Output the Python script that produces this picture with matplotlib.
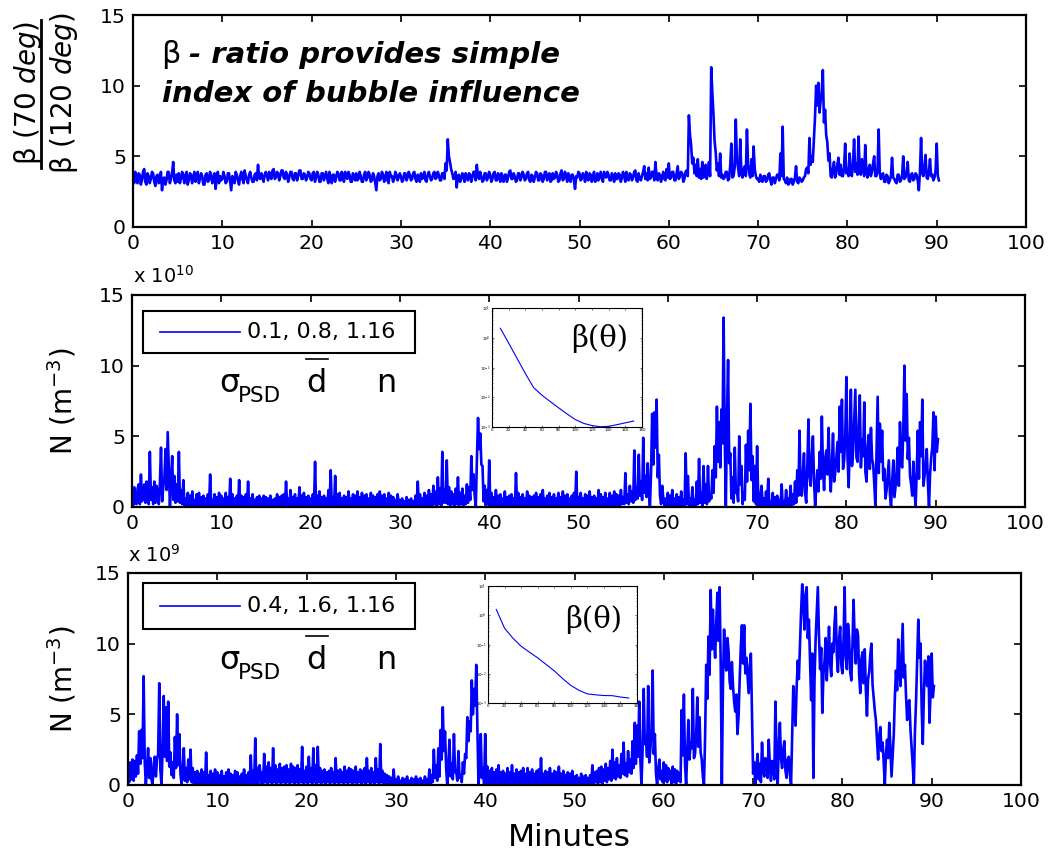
import numpy as np
import matplotlib
matplotlib.use("Agg")
import matplotlib.pyplot as plt
from matplotlib.lines import Line2D
from matplotlib.patches import Rectangle
from matplotlib.ticker import LogLocator, NullFormatter

plt.rcParams['font.family'] = ['DejaVu Sans']
plt.rcParams['mathtext.fontset'] = 'dejavusans'

# ---------------------------------------------------------------- data
sample_step = 0.125  # minutes between samples

beta_ratio = [
    3.5, 3.1, 3.9, 3.3, 3.1, 3.8, 3.7, 3.0, 3.3, 3.9, 4.1, 3.2, 3.0, 3.8, 3.6, 3.1, 3.4, 3.9, 3.8, 3.2,
    2.9, 3.6, 3.7, 3.1, 3.2, 3.9, 2.6, 3.4, 3.5, 3.0, 3.3, 3.9, 3.9, 3.1, 3.4, 3.8, 4.6, 3.3, 3.1, 3.7,
    3.2, 3.8, 3.1, 3.4, 3.9, 3.6, 3.1, 3.7, 3.9, 3.0, 3.3, 3.8, 3.7, 3.1, 3.5, 3.9, 3.2, 3.6, 3.9, 3.1,
    3.4, 3.8, 3.6, 3.0, 3.0, 3.7, 3.8, 3.2, 3.3, 3.9, 3.7, 3.1, 3.4, 3.8, 2.7, 3.5, 3.9, 3.1, 3.6, 3.3,
    3.4, 3.9, 3.6, 3.1, 3.2, 3.8, 3.8, 3.2, 2.6, 3.6, 3.5, 3.1, 3.9, 3.7, 3.3, 3.0, 3.6, 3.9, 3.4, 3.1,
    4.0, 3.6, 3.3, 3.1, 3.7, 3.9, 3.5, 3.2, 3.2, 3.7, 3.8, 3.3, 4.4, 3.5, 3.4, 3.8, 3.5, 3.2, 3.7, 3.9,
    3.6, 3.3, 3.9, 3.5, 3.4, 4.0, 4.1, 3.4, 3.5, 3.9, 3.8, 3.3, 3.6, 4.0, 4.0, 3.5, 3.4, 3.9, 3.7, 3.2,
    3.5, 3.9, 3.9, 3.4, 3.3, 3.8, 3.8, 3.3, 3.6, 4.0, 4.0, 3.4, 3.4, 3.8, 3.7, 3.3, 3.5, 3.9, 3.8, 3.4,
    3.3, 3.8, 3.9, 3.2, 3.5, 3.9, 3.7, 3.2, 3.2, 3.8, 3.8, 3.3, 3.6, 3.9, 3.4, 3.1, 3.9, 3.5, 3.1, 3.7,
    3.7, 3.2, 3.5, 3.9, 3.8, 3.3, 3.3, 3.9, 3.6, 3.2, 3.9, 3.5, 3.4, 3.9, 3.7, 3.2, 3.2, 3.8, 3.6, 3.3,
    3.8, 3.3, 3.4, 3.9, 3.6, 3.2, 3.2, 3.7, 3.9, 3.3, 3.5, 3.9, 3.7, 3.2, 3.3, 3.8, 3.6, 3.1, 2.6, 3.6,
    3.8, 3.3, 3.4, 3.9, 3.7, 3.2, 3.5, 3.9, 3.3, 3.1, 3.9, 3.6, 3.6, 3.2, 3.4, 3.9, 3.7, 3.3, 3.5, 3.8,
    3.6, 3.2, 3.3, 3.8, 3.8, 3.3, 3.5, 3.9, 3.7, 3.3, 3.4, 3.8, 3.9, 3.4, 3.2, 3.7, 3.6, 3.2, 3.8, 3.4,
    3.5, 3.9, 3.3, 3.2, 3.7, 3.9, 3.6, 3.3, 3.4, 3.8, 3.9, 3.4, 3.5, 3.9, 3.7, 3.3, 3.3, 3.8, 3.8, 3.4,
    4.5, 4.0, 6.2, 5.0, 4.6, 4.1, 3.8, 3.4, 3.5, 3.9, 2.8, 3.6, 3.7, 3.2, 3.4, 3.8, 3.6, 3.2, 3.8, 3.5,
    3.3, 3.8, 3.7, 3.2, 3.5, 3.9, 3.9, 3.3, 4.4, 3.6, 3.4, 3.9, 3.6, 3.2, 3.3, 3.8, 3.8, 3.3, 3.5, 3.9,
    3.7, 3.2, 3.4, 3.8, 3.9, 3.3, 3.3, 3.8, 3.6, 3.2, 3.8, 3.4, 3.2, 3.7, 3.7, 3.2, 3.5, 3.9, 4.0, 3.4,
    3.4, 3.8, 3.6, 3.2, 3.3, 3.8, 3.8, 3.3, 3.5, 3.9, 3.7, 3.3, 3.4, 3.8, 3.9, 3.3, 3.2, 3.7, 3.6, 3.2,
    3.5, 3.9, 3.8, 3.3, 3.3, 3.8, 3.7, 3.2, 3.4, 3.9, 3.9, 3.3, 3.6, 3.8, 3.2, 3.3, 3.8, 3.4, 3.5, 3.9,
    3.7, 3.2, 3.3, 3.8, 4.0, 3.3, 3.4, 3.9, 3.6, 3.2, 3.8, 3.5, 3.2, 3.7, 3.7, 3.3, 2.7, 3.6, 3.5, 3.9,
    3.8, 3.3, 3.4, 3.8, 3.6, 3.2, 3.9, 3.5, 3.3, 3.8, 3.7, 3.2, 3.5, 3.9, 3.2, 3.3, 3.8, 3.3, 3.6, 3.9,
    3.4, 3.2, 3.9, 3.6, 3.5, 3.9, 3.7, 3.3, 3.3, 3.8, 3.6, 3.2, 3.8, 3.4, 3.4, 3.8, 3.7, 3.2, 3.5, 3.9,
    3.6, 3.2, 3.9, 3.5, 3.3, 3.8, 3.7, 3.3, 3.5, 3.9, 4.0, 3.3, 3.2, 3.8, 3.4, 3.3, 3.6, 3.9, 4.3, 3.4,
    3.8, 3.3, 4.2, 3.4, 3.5, 3.9, 3.9, 3.3, 4.6, 3.6, 3.3, 3.8, 3.7, 3.2, 3.5, 3.9, 3.4, 3.3, 4.1, 3.5,
    4.5, 3.4, 3.5, 3.9, 3.9, 3.3, 3.3, 3.8, 4.3, 3.4, 3.6, 3.9, 3.8, 3.2, 3.4, 3.9, 4.0, 3.6, 7.9, 6.5,
    5.8, 4.5, 4.9, 3.8, 4.4, 3.6, 4.8, 3.5, 4.1, 3.4, 4.6, 3.5, 3.8, 4.4, 3.4, 3.9, 4.6, 3.6, 11.3, 9.5,
    8.0, 6.1, 5.3, 4.0, 4.5, 3.6, 5.2, 3.5, 3.7, 3.4, 3.5, 3.9, 3.9, 3.3, 3.4, 4.3, 5.9, 3.5, 3.6, 4.2,
    7.6, 4.8, 4.2, 3.6, 6.2, 3.8, 3.5, 4.1, 4.3, 3.6, 6.9, 4.4, 3.8, 3.5, 4.8, 3.6, 5.7, 4.1, 3.6, 3.4,
    3.4, 3.2, 3.7, 3.3, 3.2, 3.6, 3.6, 3.2, 3.3, 3.7, 3.8, 3.3, 3.0, 3.5, 3.5, 3.1, 3.4, 3.7, 3.7, 3.3,
    5.2, 3.6, 7.1, 3.4, 3.3, 3.1, 3.5, 3.0, 3.1, 3.4, 3.4, 3.0, 3.2, 3.5, 4.3, 3.2, 3.1, 3.5, 3.4, 3.2,
    3.3, 3.5, 3.6, 4.1, 4.2, 3.8, 6.3, 4.4, 5.0, 4.6, 6.2, 7.8, 10.0, 8.6, 10.2, 8.1, 8.9, 9.6, 11.1, 7.4,
    8.3, 6.5, 6.0, 4.7, 5.2, 3.6, 3.5, 4.1, 4.6, 3.5, 3.8, 4.4, 4.9, 3.7, 4.4, 3.6, 3.6, 4.2, 5.9, 3.8,
    4.1, 3.6, 5.2, 3.8, 3.6, 4.5, 6.2, 3.9, 4.5, 3.7, 6.4, 4.0, 3.7, 4.8, 4.2, 3.6, 5.8, 3.9, 3.5, 4.1,
    4.4, 3.6, 3.9, 4.5, 5.0, 3.6, 3.6, 4.0, 6.9, 3.8, 3.4, 3.7, 3.8, 3.2, 3.2, 3.7, 3.6, 3.1, 3.3, 3.6,
    4.9, 3.5, 3.4, 3.2, 3.1, 3.7, 3.7, 3.2, 3.3, 3.6, 5.0, 3.4, 3.5, 3.8, 4.6, 3.3, 3.2, 3.7, 3.8, 3.3,
    3.4, 3.8, 3.7, 3.3, 2.6, 3.9, 6.3, 3.8, 3.6, 4.2, 5.1, 3.5, 3.4, 3.9, 4.8, 3.6, 3.7, 3.3, 3.5, 4.0,
    5.9, 3.6, 3.3,
]

# number density, units of 1e10 m^-3  (sigma_PSD=0.1, d=0.8, n=1.16)
density_a = [
    1.2, 0.1, 1.4, 0.3, 0.2, 1.3, 1.6, 0.2, 2.3, 0.4, 0.9, 1.6, 0.3, 1.8, 1.1, 0.2, 3.9, 0.5, 1.4, 0.2,
    1.8, 0.3, 1.5, 1.0, 0.2, 1.7, 4.2, 0.4, 1.4, 2.0, 4.1, 1.2, 5.3, 2.6, 0.0, 1.9, 3.6, 0.5, 2.2, 0.3,
    1.6, 0.4, 3.9, 0.3, 1.2, 0.2, 1.9, 0.1, 0.6, 0.0, 1.0, 0.1, 0.8, 0.0, 1.1, 0.1, 0.5, 0.0, 0.9, 0.1,
    1.0, 0.0, 0.7, 0.1, 0.8, 0.0, 0.6, 0.1, 0.9, 0.0, 2.3, 0.1, 0.5, 0.0, 0.9, 0.1, 0.7, 0.0, 1.0, 0.1,
    0.8, 0.0, 0.6, 0.1, 1.0, 0.0, 0.7, 0.1, 2.0, 0.0, 0.9, 0.1, 0.6, 0.0, 0.8, 0.1, 1.9, 0.0, 0.8, 0.1,
    0.7, 0.0, 0.9, 0.1, 1.8, 0.0, 0.6, 0.1, 0.9, 0.0, 0.5, 0.1, 0.7, 0.0, 0.8, 0.1, 0.6, 0.0, 0.8, 0.1,
    0.7, 0.0, 0.6, 0.1, 0.8, 0.0, 0.5, 0.1, 0.6, 0.0, 0.9, 0.1, 0.7, 0.0, 0.8, 0.1, 0.9, 0.0, 1.8, 0.1,
    0.6, 0.0, 1.2, 0.1, 0.7, 0.0, 0.9, 0.1, 0.6, 0.0, 1.4, 0.1, 0.8, 0.0, 1.0, 0.1, 0.7, 0.0, 0.8, 0.1,
    0.6, 0.0, 0.9, 0.1, 3.2, 0.0, 0.8, 0.1, 1.1, 0.0, 0.7, 0.1, 0.8, 0.0, 0.6, 0.1, 1.2, 0.0, 2.6, 0.1,
    0.7, 0.0, 2.2, 0.1, 0.9, 0.0, 1.0, 0.1, 0.6, 0.0, 0.8, 0.1, 0.7, 0.0, 1.1, 0.1, 0.6, 0.0, 0.9, 0.1,
    0.8, 0.0, 1.1, 0.1, 0.7, 0.0, 1.0, 0.1, 0.8, 0.0, 0.9, 0.1, 0.6, 0.0, 1.0, 0.1, 0.8, 0.0, 0.7, 0.1,
    0.9, 0.0, 1.1, 0.1, 0.8, 0.0, 0.9, 0.1, 0.6, 0.0, 1.0, 0.1, 0.8, 0.0, 0.7, 0.1, 0.5, 0.0, 0.9, 0.1,
    0.5, 0.0, 0.6, 0.1, 0.4, 0.0, 0.7, 0.1, 0.5, 0.0, 0.6, 0.1, 0.4, 0.0, 0.8, 0.1, 1.8, 0.0, 0.9, 0.1,
    0.6, 0.0, 1.0, 0.1, 0.8, 0.0, 1.2, 0.1, 0.9, 0.0, 1.5, 0.2, 1.1, 0.1, 2.1, 0.2, 1.3, 0.1, 3.9, 0.3,
    1.2, 0.3, 3.3, 0.2, 1.4, 0.1, 1.1, 0.2, 0.9, 0.1, 1.3, 0.2, 2.1, 0.1, 1.0, 0.2, 1.3, 0.1, 0.8, 0.2,
    1.6, 0.3, 1.4, 0.5, 3.6, 1.2, 2.3, 0.8, 0.0, 3.4, 6.3, 4.1, 5.2, 3.0, 2.9, 0.4, 1.5, 0.1, 1.2, 0.2,
    3.3, 0.1, 1.0, 0.0, 0.7, 0.1, 1.2, 0.0, 0.8, 0.1, 0.9, 0.0, 0.6, 0.1, 1.1, 0.0, 0.7, 0.1, 0.8, 0.0,
    0.9, 0.1, 0.6, 0.0, 2.4, 0.1, 1.0, 0.0, 0.7, 0.1, 0.9, 0.0, 0.6, 0.1, 1.1, 0.0, 0.8, 0.1, 0.7, 0.0,
    0.8, 0.1, 1.0, 0.0, 0.7, 0.1, 0.9, 0.0, 1.2, 0.1, 0.6, 0.0, 0.8, 0.1, 1.0, 0.0, 0.7, 0.1, 0.9, 0.0,
    0.6, 0.1, 1.0, 0.0, 0.7, 0.1, 1.1, 0.0, 0.8, 0.1, 0.9, 0.0, 0.6, 0.1, 0.8, 0.0, 1.0, 0.1, 2.5, 0.0,
    0.7, 0.1, 1.0, 0.0, 0.6, 0.1, 0.9, 0.0, 0.8, 0.1, 1.1, 0.0, 0.7, 0.1, 0.8, 0.0, 0.6, 0.1, 1.2, 0.0,
    0.9, 0.1, 0.7, 0.0, 1.0, 0.1, 0.6, 0.0, 1.0, 0.1, 0.8, 0.0, 1.1, 0.1, 0.9, 0.0, 0.8, 0.1, 1.2, 0.2,
    0.7, 0.2, 2.4, 0.3, 0.9, 0.2, 1.5, 0.4, 1.1, 0.3, 4.0, 0.5, 1.4, 0.6, 3.7, 0.8, 1.8, 0.5, 4.9, 1.0,
    2.2, 0.7, 3.1, 1.2, 0.0, 2.5, 6.6, 3.0, 6.7, 4.2, 7.6, 2.1, 3.7, 0.8, 0.2, 1.5, 0.6, 0.1, 0.6, 0.0,
    1.0, 0.1, 0.8, 0.0, 1.2, 0.1, 0.6, 0.0, 0.9, 0.1, 0.7, 0.0, 1.1, 0.1, 0.5, 0.0, 3.8, 0.2, 2.2, 0.1,
    0.6, 0.0, 1.4, 0.1, 0.5, 0.0, 1.8, 0.2, 3.4, 0.3, 1.0, 0.1, 2.9, 0.3, 1.6, 0.2, 2.9, 0.4, 0.9, 0.6,
    2.6, 1.0, 4.3, 2.1, 7.1, 3.2, 6.0, 2.8, 6.9, 4.5, 13.4, 5.0, 0.0, 6.2, 10.4, 3.1, 3.8, 0.6, 2.1, 0.3,
    4.2, 1.0, 1.2, 0.4, 5.0, 1.6, 2.9, 0.2, 1.0, 0.5, 4.4, 1.8, 5.4, 2.6, 7.3, 1.9, 3.6, 0.4, 2.9, 0.2,
    4.3, 0.6, 0.0, 0.8, 1.5, 0.1, 0.6, 0.0, 1.1, 0.1, 2.0, 0.0, 0.4, 0.1, 1.0, 0.0, 0.7, 0.1, 0.8, 0.0,
    0.5, 0.1, 1.6, 0.0, 0.4, 0.1, 1.2, 0.0, 0.6, 0.1, 1.5, 0.0, 0.9, 0.2, 1.8, 0.3, 2.6, 0.8, 5.4, 1.2,
    0.8, 2.4, 3.8, 1.0, 0.3, 2.9, 6.2, 2.2, 1.5, 3.6, 5.0, 1.9, 0.0, 1.4, 2.6, 1.1, 3.9, 2.0, 6.4, 2.8,
    1.2, 3.4, 4.0, 2.3, 5.6, 2.6, 1.1, 3.0, 5.2, 1.8, 2.4, 3.5, 4.6, 2.5, 7.1, 3.9, 7.6, 2.7, 3.3, 5.1,
    9.2, 3.6, 1.4, 4.4, 8.3, 2.9, 4.0, 6.1, 8.3, 3.5, 3.2, 5.7, 7.9, 2.8, 4.8, 3.6, 7.4, 2.5, 1.8, 4.2,
    5.1, 2.7, 5.6, 3.4, 3.0, 1.6, 0.0, 3.9, 7.8, 2.4, 5.9, 3.2, 5.4, 1.9, 2.7, 0.6, 1.2, 2.3, 3.3, 0.9,
    0.0, 1.8, 3.3, 0.7, 1.4, 2.6, 4.2, 1.5, 6.0, 3.1, 2.8, 5.6, 10.0, 4.7, 8.0, 3.4, 4.9, 2.2, 1.6, 0.8,
    3.2, 1.3, 0.0, 2.5, 5.4, 2.0, 6.0, 3.6, 7.6, 1.5, 2.2, 3.0, 4.1, 1.7, 0.0, 2.4, 3.5, 4.3, 6.7, 2.6,
    6.4, 3.9, 4.8,
]

# number density, units of 1e9 m^-3  (sigma_PSD=0.4, d=1.6, n=1.16)
density_b = [
    1.3, 0.2, 1.6, 0.4, 1.8, 0.3, 1.7, 0.6, 2.1, 0.8, 3.8, 1.5, 3.9, 1.9, 7.7, 1.6, 0.0, 1.2, 2.6, 0.5,
    1.9, 0.4, 0.0, 1.5, 2.0, 0.6, 1.8, 2.2, 7.2, 1.1, 0.0, 2.4, 6.3, 2.0, 5.5, 1.7, 5.9, 1.3, 2.3, 0.7,
    1.6, 0.5, 3.4, 1.2, 5.0, 1.4, 3.6, 0.8, 0.0, 1.1, 2.6, 0.3, 1.2, 0.2, 1.8, 0.4, 2.5, 0.2, 1.2, 0.1,
    0.9, 0.0, 1.0, 0.1, 0.8, 0.0, 1.1, 0.1, 0.9, 0.0, 2.3, 0.1, 0.7, 0.0, 1.0, 0.1, 0.8, 0.0, 1.1, 0.1,
    0.9, 0.0, 0.7, 0.1, 1.0, 0.0, 0.6, 0.1, 0.9, 0.0, 1.1, 0.1, 0.8, 0.0, 0.7, 0.1, 1.0, 0.0, 0.9, 0.1,
    0.6, 0.0, 0.8, 0.1, 1.1, 0.0, 0.7, 0.1, 0.9, 0.0, 2.1, 0.1, 1.0, 0.0, 3.3, 0.2, 0.0, 1.2, 1.4, 0.1,
    0.9, 0.1, 2.2, 0.2, 1.3, 0.1, 1.6, 0.2, 1.2, 0.1, 2.6, 0.2, 1.4, 0.1, 1.1, 0.2, 1.5, 0.1, 1.2, 0.2,
    1.3, 0.1, 1.4, 0.2, 1.1, 0.1, 1.5, 0.2, 1.3, 0.1, 1.2, 0.2, 1.4, 0.1, 1.1, 0.2, 2.7, 0.1, 1.0, 0.2,
    1.3, 0.1, 2.0, 0.2, 1.2, 0.1, 2.6, 0.2, 1.4, 0.1, 2.7, 0.2, 1.2, 0.1, 1.0, 0.2, 1.1, 0.1, 0.9, 0.2,
    1.0, 0.1, 1.2, 0.2, 0.9, 0.1, 1.9, 0.2, 1.0, 0.1, 1.1, 0.2, 0.9, 0.1, 1.3, 0.2, 1.0, 0.1, 1.2, 0.2,
    1.1, 0.1, 1.0, 0.2, 1.3, 0.1, 0.9, 0.2, 1.1, 0.1, 1.0, 0.2, 1.2, 0.1, 1.9, 0.2, 1.0, 0.1, 1.2, 0.2,
    0.9, 0.1, 1.9, 0.2, 1.1, 0.1, 2.9, 0.2, 1.0, 0.1, 0.8, 0.0, 0.7, 0.1, 0.6, 0.0, 0.5, 0.1, 1.1, 0.0,
    0.4, 0.0, 0.6, 0.1, 0.3, 0.0, 0.5, 0.1, 0.4, 0.0, 0.6, 0.1, 0.3, 0.0, 0.5, 0.1, 0.4, 0.0, 0.6, 0.1,
    0.4, 0.0, 0.5, 0.1, 0.3, 0.0, 0.6, 0.1, 0.4, 0.0, 1.1, 0.1, 0.7, 0.2, 2.5, 0.5, 1.4, 0.3, 2.6, 0.6,
    3.9, 1.8, 5.5, 2.4, 3.8, 1.2, 0.0, 1.5, 3.2, 0.6, 1.5, 0.4, 3.6, 0.9, 1.0, 0.3, 2.4, 0.5, 0.7, 0.2,
    1.6, 0.8, 2.2, 1.9, 4.8, 3.1, 4.5, 3.8, 7.4, 5.0, 6.8, 5.6, 8.5, 4.0, 0.0, 1.2, 3.6, 0.5, 1.2, 0.1,
    3.6, 0.1, 1.3, 0.0, 1.0, 0.1, 1.2, 0.0, 0.9, 0.1, 1.1, 0.0, 1.4, 0.1, 0.9, 0.0, 1.0, 0.1, 0.8, 0.0,
    1.2, 0.1, 0.9, 0.0, 1.4, 0.1, 0.8, 0.0, 1.1, 0.1, 0.9, 0.0, 1.0, 0.1, 1.2, 0.0, 0.8, 0.1, 1.2, 0.0,
    0.9, 0.1, 1.1, 0.0, 0.8, 0.1, 1.0, 0.0, 1.1, 0.1, 1.9, 0.0, 0.8, 0.1, 1.0, 0.0, 0.9, 0.1, 1.2, 0.0,
    0.8, 0.1, 1.0, 0.0, 0.9, 0.1, 1.3, 0.0, 0.8, 0.1, 1.0, 0.0, 0.7, 0.1, 0.9, 0.0, 0.8, 0.1, 1.0, 0.0,
    0.6, 0.1, 0.7, 0.0, 0.5, 0.1, 0.8, 0.0, 0.6, 0.1, 0.7, 0.0, 0.5, 0.1, 0.7, 0.0, 1.4, 0.1, 0.9, 0.2,
    1.0, 0.1, 1.2, 0.2, 1.3, 0.1, 1.1, 0.3, 1.5, 0.2, 1.2, 0.4, 1.7, 0.3, 2.5, 0.5, 1.6, 0.4, 1.9, 0.6,
    1.4, 0.5, 2.2, 0.8, 3.0, 0.7, 1.5, 0.6, 2.4, 0.9, 1.8, 0.8, 3.1, 1.2, 4.4, 1.5, 4.2, 2.0, 5.9, 1.8,
    0.0, 2.5, 6.8, 2.9, 3.5, 2.0, 7.0, 1.6, 2.6, 3.8, 8.1, 2.2, 3.6, 0.8, 0.0, 1.1, 1.8, 0.4, 1.0, 0.2,
    1.6, 0.3, 1.4, 0.2, 1.2, 0.4, 1.0, 0.1, 1.3, 0.2, 1.1, 0.1, 1.0, 0.3, 0.8, 0.2, 5.3, 2.1, 6.4, 1.5,
    0.0, 2.4, 4.6, 1.8, 3.0, 2.6, 6.8, 1.9, 2.2, 3.5, 6.2, 2.7, 4.8, 2.3, 1.8, 0.6, 0.0, 3.4, 8.5, 6.1,
    10.5, 7.8, 13.8, 9.6, 12.4, 10.1, 9.0, 11.5, 13.6, 10.2, 14.0, 8.4, 0.0, 7.2, 11.0, 8.8, 8.1, 10.4, 9.5, 7.3,
    6.8, 8.7, 7.0, 5.9, 5.2, 6.4, 3.6, 4.9, 7.5, 9.8, 11.3, 8.6, 11.3, 7.9, 9.0, 7.7, 6.5, 8.4, 9.3, 5.1,
    0.8, 1.6, 0.0, 1.2, 2.2, 0.4, 1.5, 0.2, 3.0, 1.1, 0.6, 1.9, 1.8, 0.5, 3.2, 1.4, 0.3, 1.7, 1.5, 0.4,
    5.9, 2.3, 0.0, 2.8, 4.4, 1.9, 1.2, 2.5, 3.1, 1.0, 0.5, 1.8, 2.0, 0.7, 0.0, 3.6, 7.0, 5.3, 4.2, 6.9,
    8.8, 7.5, 10.0, 12.3, 14.2, 12.8, 11.0, 13.5, 14.0, 10.4, 11.7, 8.9, 6.0, 9.3, 0.5, 7.4, 10.3, 12.1, 14.0, 10.6,
    8.2, 9.7, 5.1, 7.8, 8.8, 10.4, 7.4, 9.1, 11.2, 8.6, 7.7, 10.0, 9.4, 11.5, 12.6, 9.2, 8.0, 10.3, 11.2, 8.5,
    7.9, 10.2, 14.0, 9.1, 8.2, 11.4, 10.5, 8.0, 7.4, 9.9, 13.1, 10.3, 8.6, 11.0, 10.6, 7.8, 6.5, 8.9, 9.4, 7.2,
    9.6, 6.8, 4.9, 7.5, 8.0, 9.2, 10.0, 7.1, 6.2, 5.3, 4.6, 3.2, 1.8, 3.5, 4.1, 2.4, 3.0, 1.6, 0.0, 2.2,
    3.2, 1.9, 4.4, 2.7, 0.6, 2.1, 3.5, 6.2, 8.1, 6.7, 10.3, 8.4, 7.0, 9.2, 11.4, 7.6, 8.5, 6.3, 4.6, 5.8,
    6.0, 3.9, 2.7, 1.4, 0.0, 3.8, 6.0, 8.9, 11.7, 9.0, 10.0, 5.5, 2.9, 6.4, 8.8, 7.5, 7.0, 9.1, 4.4, 6.6,
    9.3, 6.2, 7.0,
]

# volume scattering function used for each case
scatter_angle = [10, 20, 30, 40, 50, 60, 70, 80, 90, 100, 110, 120, 130, 140, 150, 160, 170]
vsf_a = [2.09, 0.66, 0.204, 0.063, 0.021, 0.0117, 0.0071, 0.0044, 0.00275, 0.00178,
         0.00132, 0.00112, 0.00102, 0.00105, 0.0012, 0.00138, 0.00158]
vsf_b = [1.58, 0.36, 0.166, 0.087, 0.055, 0.035, 0.021, 0.0126, 0.0069, 0.0040,
         0.0027, 0.00205, 0.0019, 0.0018, 0.00178, 0.0016, 0.00148]

legend_a = "0.1, 0.8, 1.16"
legend_b = "0.4, 1.6, 1.16"
x_ticks = [0, 10, 20, 30, 40, 50, 60, 70, 80, 90, 100]
y_ticks = [0, 5, 10, 15]


def time_axis(series):
    return np.arange(len(series)) * sample_step


# ---------------------------------------------------------------- layout helpers
W, H = 1051, 857
fig = plt.figure(figsize=(W / 100, H / 100), dpi=100)


def fx(x):
    return x / W


def fy(y):
    return 1 - y / H


def axes_px(left, top, right, bottom):
    return fig.add_axes([fx(left), fy(bottom), (right - left) / W, (bottom - top) / H])


BLUE = '#0000ff'
TRACE_LW = 1.9


def style_main(ax):
    ax.set_xlim(0, 100)
    ax.set_ylim(0, 15)
    ax.set_xticks(x_ticks)
    ax.set_yticks(y_ticks)
    ax.tick_params(direction='in', top=True, right=True, length=5, width=1.2,
                   labelsize=14.7, pad=5)
    for s in ax.spines.values():
        s.set_linewidth(1.6)


def style_inset(ax, values):
    ax.semilogy(scatter_angle, values, color=BLUE, lw=0.8)
    ax.set_xlim(0, 180)
    ax.set_ylim(1e-3, 1e1)
    ax.set_xticks(range(0, 181, 20))
    ax.yaxis.set_major_locator(LogLocator(base=10, numticks=10))
    ax.yaxis.set_minor_locator(LogLocator(base=10, subs=np.arange(2, 10), numticks=10))
    ax.yaxis.set_minor_formatter(NullFormatter())
    ax.tick_params(which='both', direction='in', top=True, right=True, labelsize=2.8,
                   length=1.6, width=0.4, pad=1)
    ax.tick_params(which='minor', length=0.9)
    for s in ax.spines.values():
        s.set_linewidth(0.8)


# ---------------------------------------------------------------- panel 1
ax1 = axes_px(133, 15, 1026, 227)
ax1.plot(time_axis(beta_ratio), beta_ratio, color=BLUE, lw=TRACE_LW)
style_main(ax1)

fig.text(fx(161), fy(63), 'β', fontsize=22, va='baseline', ha='left')
fig.text(fx(189), fy(63), '- ratio provides simple', fontsize=21, va='baseline',
         ha='left', fontweight='bold', fontstyle='italic')
fig.text(fx(162), fy(102), 'index of bubble influence', fontsize=21, va='baseline',
         ha='left', fontweight='bold', fontstyle='italic')

# stacked ratio label
fig.text(fx(28), fy(93), r'β (70 $\mathit{deg}$)', rotation=90, fontsize=20,
         ha='center', va='center')
fig.text(fx(64), fy(93), r'β (120 $\mathit{deg}$)', rotation=90, fontsize=20,
         ha='center', va='center')
fig.add_artist(Line2D([fx(41), fx(41)], [fy(20), fy(168)], color='black', lw=2,
                      transform=fig.transFigure))

# ---------------------------------------------------------------- panels 2 and 3
panels = [
    dict(box=(132, 295, 1025, 507), data=density_a, scale='x 10$^{10}$', scale_xy=(133, 283),
         legend=legend_a, leg_box=(143, 311, 415, 353), inset=(492, 308, 642, 427),
         vsf=vsf_a, beta_xy=(600, 338), shift=0),
    dict(box=(128, 573, 1021, 785), data=density_b, scale='x 10$^{9}$', scale_xy=(128, 562),
         legend=legend_b, leg_box=(143, 583, 415, 629), inset=(488, 586, 637, 703),
         vsf=vsf_b, beta_xy=(594, 620), shift=277),
]

for p in panels:
    ax = axes_px(*p['box'])
    ax.plot(time_axis(p['data']), p['data'], color=BLUE, lw=TRACE_LW)
    style_main(ax)

    fig.text(fx(p['scale_xy'][0]), fy(p['scale_xy'][1]), p['scale'], fontsize=14,
             va='baseline', ha='left')

    top, bottom = p['box'][1], p['box'][3]
    fig.text(fx(62), fy((top + bottom) / 2), 'N (m$^{-3}$)', rotation=90, fontsize=20,
             ha='center', va='center')

    # legend frame with sample line and parameter values
    l, t, r, b = p['leg_box']
    fig.add_artist(Rectangle((fx(l), fy(b)), (r - l) / W, (b - t) / H, facecolor='white',
                             edgecolor='black', lw=1.5, transform=fig.transFigure, zorder=5))
    ymid = (t + b) / 2
    fig.add_artist(Line2D([fx(160), fx(240)], [fy(ymid), fy(ymid)], color=BLUE, lw=1.2,
                          transform=fig.transFigure, zorder=6))
    fig.text(fx(247), fy(ymid), p['legend'], fontsize=16, ha='left', va='center', zorder=6)

    # parameter names under the legend
    s = p['shift']
    fig.text(fx(219), fy(392 + s), 'σ', fontsize=23, va='baseline', ha='left')
    fig.text(fx(238), fy(402 + s), 'PSD', fontsize=15.5, va='baseline', ha='left')
    fig.text(fx(306), fy(392 + s), 'd', fontsize=23, va='baseline', ha='left')
    fig.add_artist(Line2D([fx(306), fx(328)], [fy(359 + s), fy(359 + s)], color='black',
                          lw=1.2, transform=fig.transFigure))
    fig.text(fx(376), fy(392 + s), 'n', fontsize=23, va='baseline', ha='left')

    axi = axes_px(*p['inset'])
    style_inset(axi, p['vsf'])
    fig.text(fx(p['beta_xy'][0]), fy(p['beta_xy'][1]), 'β(θ)', fontsize=21,
             family='DejaVu Serif', ha='center', va='center')

fig.text(fx(569), fy(838), 'Minutes', fontsize=22.5, ha='center', va='center')

fig.savefig('out.png', dpi=100)
